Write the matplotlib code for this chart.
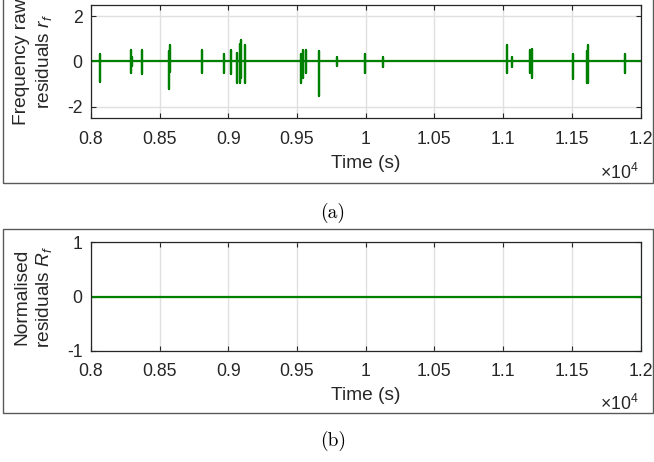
import numpy as np
import matplotlib
matplotlib.use('Agg')
import matplotlib.pyplot as plt
from matplotlib.patches import Rectangle

# ---- data ----
spike_time = [8065, 8289, 8300, 8371, 8568, 8575, 8808, 8968, 9019, 9060,
              9085, 9092, 9121, 9526, 9541, 9565, 9657, 9793, 9997, 10125,
              11026, 11065, 11196, 11208, 11506, 11613, 11618, 11887]
spike_high = [0.32, 0.49, 0.17, 0.49, 0.45, 0.74, 0.49, 0.32, 0.49, 0.39,
              0.76, 0.96, 0.74, 0.32, 0.52, 0.49, 0.47, 0.17, 0.32, 0.20,
              0.74, 0.20, 0.49, 0.54, 0.32, 0.47, 0.70, 0.32]
spike_low = [-0.91, -0.53, -0.19, -0.56, -1.21, -0.45, -0.50, -0.50, -0.56, -0.96,
             -0.96, -0.75, -0.96, -0.96, -0.75, -0.50, -1.52, -0.19, -0.53, -0.24,
             -0.53, -0.24, -0.53, -0.72, -0.78, -0.96, -0.96, -0.53]
t_start, t_end = 8000, 12000
norm_time = [8000, 12000]
norm_vals = [0, 0]
xticks = [8000, 8500, 9000, 9500, 10000, 10500, 11000, 11500, 12000]
xtick_labels = ['0.8', '0.85', '0.9', '0.95', '1', '1.05', '1.1', '1.15', '1.2']
yticks_a = [-2, 0, 2]
yticks_b = [-1, 0, 1]

# build raw residual series from spike list
raw_t = [t_start]
raw_v = [0.0]
for ti, hi, lo in zip(spike_time, spike_high, spike_low):
    raw_t += [ti, ti, ti, ti]
    raw_v += [0.0, hi, lo, 0.0]
raw_t.append(t_end)
raw_v.append(0.0)

plt.rcParams['font.family'] = ['Liberation Sans', 'DejaVu Sans']
plt.rcParams['mathtext.fontset'] = 'custom'
plt.rcParams['mathtext.it'] = 'Liberation Sans:italic'
plt.rcParams['mathtext.rm'] = 'Liberation Sans'
plt.rcParams['axes.unicode_minus'] = False

W, H = 654, 462
fig = plt.figure(figsize=(W / 100, H / 100), dpi=100)

def fx(px):
    return px / W

def fy(py):
    return 1 - py / H

green = '#008000'
tick_fs = 12.7
label_fs = 13.8

def style(ax, yticks, ylim):
    ax.set_xlim(t_start, t_end)
    ax.set_ylim(*ylim)
    ax.set_xticks(xticks)
    ax.set_xticklabels(xtick_labels)
    ax.set_yticks(yticks)
    ax.grid(True, color='#e0e0e0', linewidth=1.0)
    ax.set_axisbelow(True)
    ax.tick_params(direction='in', length=3.8, width=0.8, top=True, right=True,
                   labelsize=tick_fs, colors='#262626')
    ax.tick_params(axis='x', pad=9)
    ax.tick_params(axis='y', pad=6)
    for s in ax.spines.values():
        s.set_color('#262626')
        s.set_linewidth(0.9)

# frames
fig.add_artist(Rectangle((fx(3), fy(182.7)), fx(650), 200 / H, transform=fig.transFigure,
                         fill=False, edgecolor='#5a5a5a', linewidth=1.0, clip_on=False))
fig.add_artist(Rectangle((fx(3), fy(412.7)), fx(650), (412.7 - 228.7) / H, transform=fig.transFigure,
                         fill=False, edgecolor='#5a5a5a', linewidth=1.0, clip_on=False))

# top axes
ax1 = fig.add_axes([fx(91), fy(118), fx(640.5 - 91), (118 - 4.7) / H])
ax1.plot(raw_t, raw_v, color=green, linewidth=1.6)
style(ax1, yticks_a, (-2.5, 2.5))
ax1.set_ylabel('Frequency raw\nresiduals $r_f$', fontsize=label_fs, color='#262626', linespacing=1.25)
ax1.yaxis.set_label_coords(fx(54), fy(61.3), transform=fig.transFigure)
ax1.set_xlabel('Time (s)', fontsize=label_fs, color='#262626')
ax1.xaxis.set_label_coords(fx(365.8), fy(155), transform=fig.transFigure)
fig.text(fx(639), fy(179), r'$\times\mathregular{10^4}$', ha='right', va='baseline',
         fontsize=tick_fs, color='#262626')
fig.text(fx(333), fy(213), '(a)', ha='center', va='center', fontsize=14, family='cmr10')

# bottom axes
ax2 = fig.add_axes([fx(91), fy(350.7), fx(640.5 - 91), (350.7 - 242.3) / H])
ax2.plot(norm_time, norm_vals, color=green, linewidth=1.6)
style(ax2, yticks_b, (-1, 1))
ax2.set_ylabel('Normalised\nresiduals $R_f$', fontsize=label_fs, color='#262626', linespacing=1.25)
ax2.yaxis.set_label_coords(fx(54), fy(296.5), transform=fig.transFigure)
ax2.set_xlabel('Time (s)', fontsize=label_fs, color='#262626')
ax2.xaxis.set_label_coords(fx(365.8), fy(387), transform=fig.transFigure)
fig.text(fx(639), fy(410), r'$\times\mathregular{10^4}$', ha='right', va='baseline',
         fontsize=tick_fs, color='#262626')
fig.text(fx(333), fy(441), '(b)', ha='center', va='center', fontsize=14, family='cmr10')

fig.savefig('out.png', dpi=100)
